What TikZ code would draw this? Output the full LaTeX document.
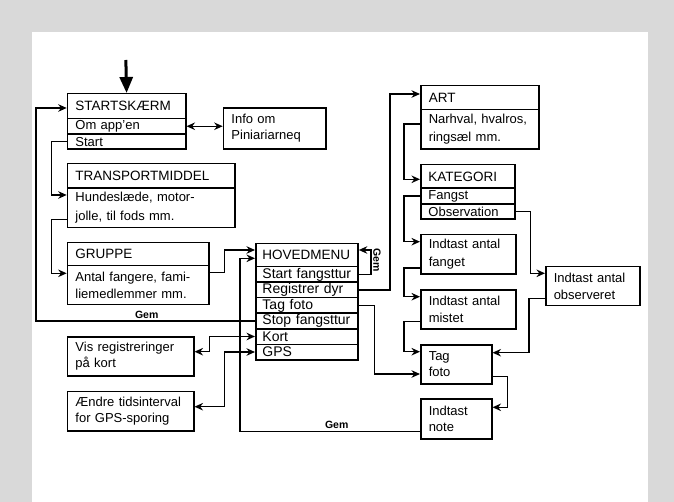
\documentclass[tikz,border=0pt]{standalone}
\usepackage{fontspec}
\setmainfont{Liberation Sans}
\usetikzlibrary{arrows.meta,calc}
\definecolor{bggray}{HTML}{D9D9D9}
\begin{document}
\begin{tikzpicture}[x=1pt,y=-1pt,
  bx/.style={draw, line width=1.5pt, anchor=north west, inner ysep=0pt, inner xsep=8pt, align=left, font=\fontsize{13}{16.5}\selectfont},
  ttl/.style={bx, font=\fontsize{13.5}{16}\selectfont},
  row/.style={bx, inner xsep=6.7pt, font=\fontsize{14}{16}\selectfont},
  krow/.style={bx, inner xsep=7.7pt},
  arr/.style={line width=1.4pt, -{Stealth[length=8.5pt,width=7.5pt]}},
  darr/.style={line width=1.4pt, {Stealth[length=8.5pt,width=7.5pt]}-{Stealth[length=8.5pt,width=7.5pt]}},
  gem/.style={font=\fontsize{10.5}{12}\selectfont\bfseries, inner sep=1pt},
]
\useasboundingbox (0,0) rectangle (674,502);
\fill[bggray] (0,0) rectangle (674,502);
\fill[white] (32,32) rectangle (648,502);

% STARTSKAERM
\node[ttl, text width=102.3pt, minimum height=24.7pt] (st) at (66.7,93) {STARTSKÆRM};
\node[bx, text width=102.3pt, minimum height=15.6pt] (stom) at (66.7,117.7) {Om app'en};
\node[bx, text width=102.3pt, minimum height=15pt] (sts) at (66.7,133.3) {Start};
\node[bx, text width=86.3pt, minimum height=41pt, font=\fontsize{13}{16}\selectfont] (info) at (222.7,107.3) {Info om\\Piniariarneq};

% TRANSPORTMIDDEL
\node[ttl, text width=151.3pt, minimum height=24.3pt] (tr) at (66.7,163) {TRANSPORTMIDDEL};
\node[bx, text width=151.3pt, minimum height=39.4pt, font=\fontsize{13}{18.3}\selectfont] (trb) at (66.7,187.3) {Hundeslæde, motor-\\jolle, til fods mm.};

% GRUPPE
\node[ttl, text width=125.3pt, minimum height=23.3pt] (gr) at (66.7,241.7) {GRUPPE};
\node[bx, text width=125.3pt, minimum height=39pt] (grb) at (66.7,265) {Antal fangere, fami-\\liemedlemmer mm.};

% Vis / Aendre
\node[bx, text width=110.3pt, minimum height=39pt] (vis) at (66.7,336) {Vis registreringer\\på kort};
\node[bx, text width=110.3pt, minimum height=39.3pt, font=\fontsize{13}{15.5}\selectfont] (ae) at (66.7,390.7) {Ændre tidsinterval\\for GPS-sporing};

% HOVEDMENU
\node[ttl, inner xsep=6.7pt, text width=88.9pt, minimum height=23.3pt] (hm) at (255,242.7) {HOVEDMENU};
\node[row, text width=88.9pt, minimum height=15.5pt] (h1) at (255,266) {Start fangsttur};
\node[row, text width=88.9pt, minimum height=15.5pt] (h2) at (255,281.5) {Registrer dyr};
\node[row, text width=88.9pt, minimum height=15.5pt] (h3) at (255,297) {Tag foto};
\node[row, text width=88.9pt, minimum height=15.5pt] (h4) at (255,312.5) {Stop fangsttur};
\node[row, text width=88.9pt, minimum height=15.5pt] (h5) at (255,328) {Kort};
\node[row, text width=88.9pt, minimum height=15.5pt] (h6) at (255,343.5) {GPS};

% ART
\node[ttl, text width=102.3pt, minimum height=24pt] (art) at (420,85) {ART};
\node[bx, text width=102.3pt, minimum height=39.3pt, font=\fontsize{13}{18.3}\selectfont] (artb) at (420,109) {Narhval, hvalros,\\ringsæl mm.};

% KATEGORI
\node[ttl, inner xsep=7.7pt, text width=78.6pt, minimum height=23.3pt] (kat) at (420,164) {KATEGORI};
\node[krow, text width=78.6pt, minimum height=16pt] (kf) at (420,187.3) {Fangst};
\node[krow, text width=78.6pt, minimum height=15pt] (ko) at (420,203.3) {Observation};

% right column
\node[bx, text width=79pt, minimum height=39.3pt, font=\fontsize{13}{17.7}\selectfont] (fan) at (420,234) {Indtast antal\\fanget};
\node[bx, text width=79pt, minimum height=39pt] (mis) at (420,289.3) {Indtast antal\\mistet};
\node[bx, text width=78.3pt, minimum height=39pt] (obs) at (545,266) {Indtast antal\\observeret};
\node[bx, text width=55pt, minimum height=39.3pt, font=\fontsize{13}{16}\selectfont] (tf) at (420,344) {Tag\\foto};
\node[bx, text width=55pt, minimum height=40pt, font=\fontsize{13}{16}\selectfont] (note) at (420,398.3) {Indtast\\note};

% entry arrow
\coordinate (entry) at (125.85,60);
\draw[line width=3pt, -{Triangle[length=16pt,width=13pt]}] (entry) -- (st.north);

% connectors
\draw[darr] (stom.east) -- (info.west |- stom.east);
\draw[arr] (sts.west) -- ++(-15,0) |- ([yshift=-7.7pt]trb.north west);
\draw[arr] ([yshift=8.4pt]trb.south west) -- ++(-15,0) |- ([yshift=-8.3pt]grb.north west);
\draw[arr] ([yshift=-7.7pt]grb.north east) -- ++(14.7,0) |- ([yshift=-7.3pt]hm.north west);
\draw[arr] (h4.west) -- ++(-219,0) |- ([yshift=-15pt]st.north west);
\node[gem, above] (gem1) at (146.7,320) {Gem};
\draw[arr] ([yshift=8.3pt]note.south west) -- ++(-180,0) |- ([yshift=-15.6pt]hm.north west);
\node[gem, above] (gem3) at (336.7,430) {Gem};
\draw[arr] (h1.east) -- ++(12,0) |- ([yshift=-7.3pt]hm.north east);
\node[gem, rotate=-90] (gem2) at (377,260) {Gem};
\draw[arr] (h2.east) -- ++(31,0) |- ([yshift=-9pt]art.north west);
\draw[arr] (h3.east) -- ++(15.4,0) |- ([yshift=-30pt]tf.north west);
\draw[darr] ([yshift=-15.7pt]vis.north east) -- ++(15,0) |- (h5.west);
\draw[darr] ([yshift=-16pt]ae.north east) -- ++(29.7,0) |- (h6.west);
\draw[arr] ([yshift=-15pt]artb.north west) -- ++(-16,0) |- ([yshift=-15.3pt]kat.north west);
\draw[arr] (kf.west) -- ++(-16,0) |- ([yshift=-7.7pt]fan.north west);
\draw[arr] ([yshift=6.6pt]fan.south west) -- ++(-16,0) |- ([yshift=-7.4pt]mis.north west);
\draw[arr] ([yshift=8.3pt]mis.south west) -- ++(-16,0) |- ([yshift=-7.7pt]tf.north west);
\draw[arr] (ko.east) -- ++(15,0) |- ([yshift=-7.3pt]obs.north west);
\draw[arr] ([yshift=7.7pt]obs.south west) -- ++(-16,0) |- ([yshift=-8.7pt]tf.north east);
\draw[arr] ([yshift=8.3pt]tf.south east) -- ++(15,0) |- ([yshift=-9pt]note.north east);
\end{tikzpicture}
\end{document}
